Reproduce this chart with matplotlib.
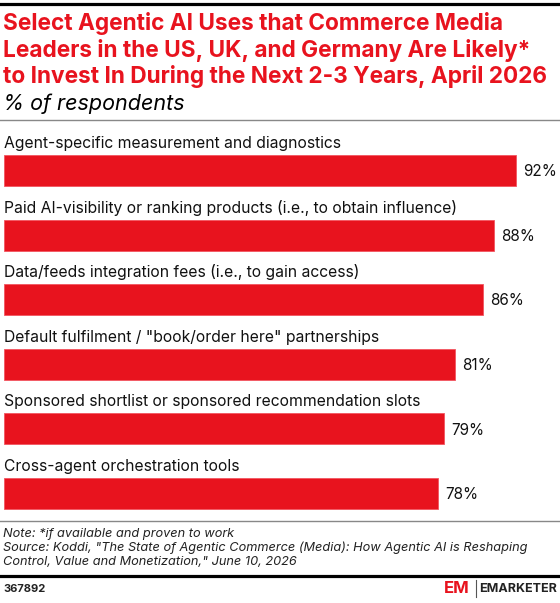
import matplotlib
matplotlib.use("Agg")
import matplotlib.pyplot as plt
from matplotlib.lines import Line2D

categories = [
    "Agent-specific measurement and diagnostics",
    "Paid AI-visibility or ranking products (i.e., to obtain influence)",
    "Data/feeds integration fees (i.e., to gain access)",
    'Default fulfilment / "book/order here" partnerships',
    "Sponsored shortlist or sponsored recommendation slots",
    "Cross-agent orchestration tools",
]
values = [92, 88, 86, 81, 79, 78]

title_lines = ["Select Agentic AI Uses that Commerce Media",
               "Leaders in the US, UK, and Germany Are Likely*",
               "to Invest In During the Next 2-3 Years, April 2026"]
subtitle = "% of respondents"
note_lines = ["Note: *if available and proven to work",
              'Source: Koddi, "The State of Agentic Commerce (Media): How Agentic AI is Reshaping',
              'Control, Value and Monetization," June 10, 2026']
chart_id = "367892"

RED = "#E8131E"
W, H = 560, 603
fig = plt.figure(figsize=(W / 100, H / 100), dpi=100)
plt.rcParams['font.family'] = ['Inter', 'DejaVu Sans']

def fx(px):
    return px / W

def fy(py):
    return 1 - py / H

# top black rule
fig.add_artist(Line2D([fx(0), fx(560)], [fy(3.5), fy(3.5)], color="black", lw=2.3))
# title
for k, line in enumerate(title_lines):
    fig.text(fx(3), fy(30 + 26.5 * k), line, color=RED, fontsize=16.3, fontweight="bold",
             va="baseline", ha="left")
fig.text(fx(3), fy(110), subtitle, color="black", fontsize=15.5, style="italic",
         va="baseline", ha="left")
fig.add_artist(Line2D([fx(0), fx(560)], [fy(119.5), fy(119.5)], color="#888888", lw=1))

# bars axes
px_per_unit = 5.565
ax = fig.add_axes([fx(4), fy(520), fx(100 * px_per_unit), (520 - 120) / H])
ax.set_xlim(0, 100)
y0 = 170.5
step = 64.6
ax.set_ylim((520 - y0) / step, (120 - y0) / step)
ys = list(range(len(values)))
ax.barh(ys, values, height=31 / step, color=RED, edgecolor="#F25560", linewidth=0.6)
for i, (c, v) in enumerate(zip(categories, values)):
    ax.text(0, i - 22.5 / step, c, fontsize=11.3, va="baseline", ha="left", color="#111111")
    ax.text(v + 7.5 / px_per_unit, i + 0.02, f"{v}%", fontsize=11, va="center", ha="left",
            color="#111111")
ax.axis("off")

# footer
fig.add_artist(Line2D([fx(0), fx(560)], [fy(521), fy(521)], color="#888888", lw=1))
for k, line in enumerate(note_lines):
    fig.text(fx(3), fy(536.7 + 14.2 * k), line, fontsize=9.2, style="italic",
             va="baseline", ha="left", color="#222222")
fig.add_artist(Line2D([fx(0), fx(560)], [fy(576), fy(576)], color="black", lw=2.3))
fig.text(fx(3), fy(591.7), chart_id, fontsize=8, fontweight="bold", va="baseline",
         ha="left", color="#222222")
fig.text(fx(470), fy(593), "EM", fontsize=12, fontweight="bold", va="baseline",
         ha="right", color=RED)
fig.add_artist(Line2D([fx(476), fx(476)], [fy(580), fy(597)], color="#555555", lw=0.8))
fig.text(fx(557), fy(591.7), "EMARKETER", fontsize=9, fontweight="bold", va="baseline",
         ha="right", color="#222222")

fig.savefig("out.png", dpi=100)
